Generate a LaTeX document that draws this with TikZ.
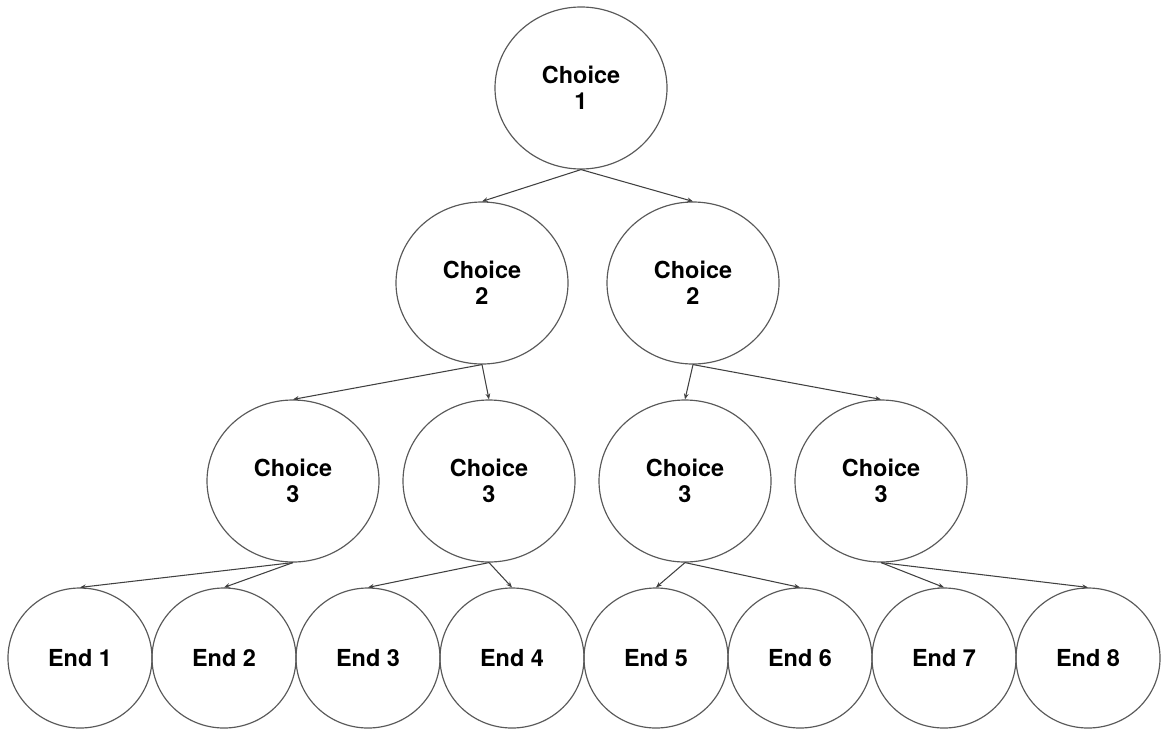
\documentclass[tikz,border=0pt]{standalone}
\usepackage{fontspec}
\setmainfont{TeX Gyre Heros}
\usetikzlibrary{shapes.geometric,arrows.meta}
\tikzset{
  choice/.style={ellipse, draw=black!65, line width=1pt, minimum width=5.16cm, minimum height=4.86cm,
    inner sep=0pt, align=center, font=\fontsize{20}{22}\selectfont\bfseries},
  endnode/.style={choice, minimum width=4.32cm, minimum height=4.2cm},
  link/.style={draw=black!75, line width=0.9pt, -{Stealth[length=5pt,width=4pt]}}
}

\begin{document}
\begin{tikzpicture}[x=0.03cm, y=-0.03cm]
	%%%%% START %%%%%
	\useasboundingbox (0,0) rectangle (1161,729);
	
	\node[choice] (c1) at (581, 88) {Choice\\1};
	
	\node[choice] (c2a) at (482, 283) {Choice\\2};
	\node[choice] (c2b) at (693, 283) {Choice\\2};
	
	\foreach \i/\x in {1/293, 2/489, 3/685, 4/881}
		\node[choice] (c3\i) at (\x, 481) {Choice\\3};
	
	\foreach \i in {1,...,8}
		\node[endnode] (e\i) at ({80+144*(\i-1)}, 658) {End \i};
	
	\draw[link] (c1.south) -- (c2a.north);
	\draw[link] (c1.south) -- (c2b.north);
	
	\draw[link] (c2a.south) -- (c31.north);
	\draw[link] (c2a.south) -- (c32.north);
	\draw[link] (c2b.south) -- (c33.north);
	\draw[link] (c2b.south) -- (c34.north);
	
	\draw[link] (c31.south) -- (e1.north);
	\draw[link] (c31.south) -- (e2.north);
	\draw[link] (c32.south) -- (e3.north);
	\draw[link] (c32.south) -- (e4.north);
	\draw[link] (c33.south) -- (e5.north);
	\draw[link] (c33.south) -- (e6.north);
	\draw[link] (c34.south) -- (e7.north);
	\draw[link] (c34.south) -- (e8.north);
	
	%%%%% END %%%%%
\end{tikzpicture}
\end{document}
